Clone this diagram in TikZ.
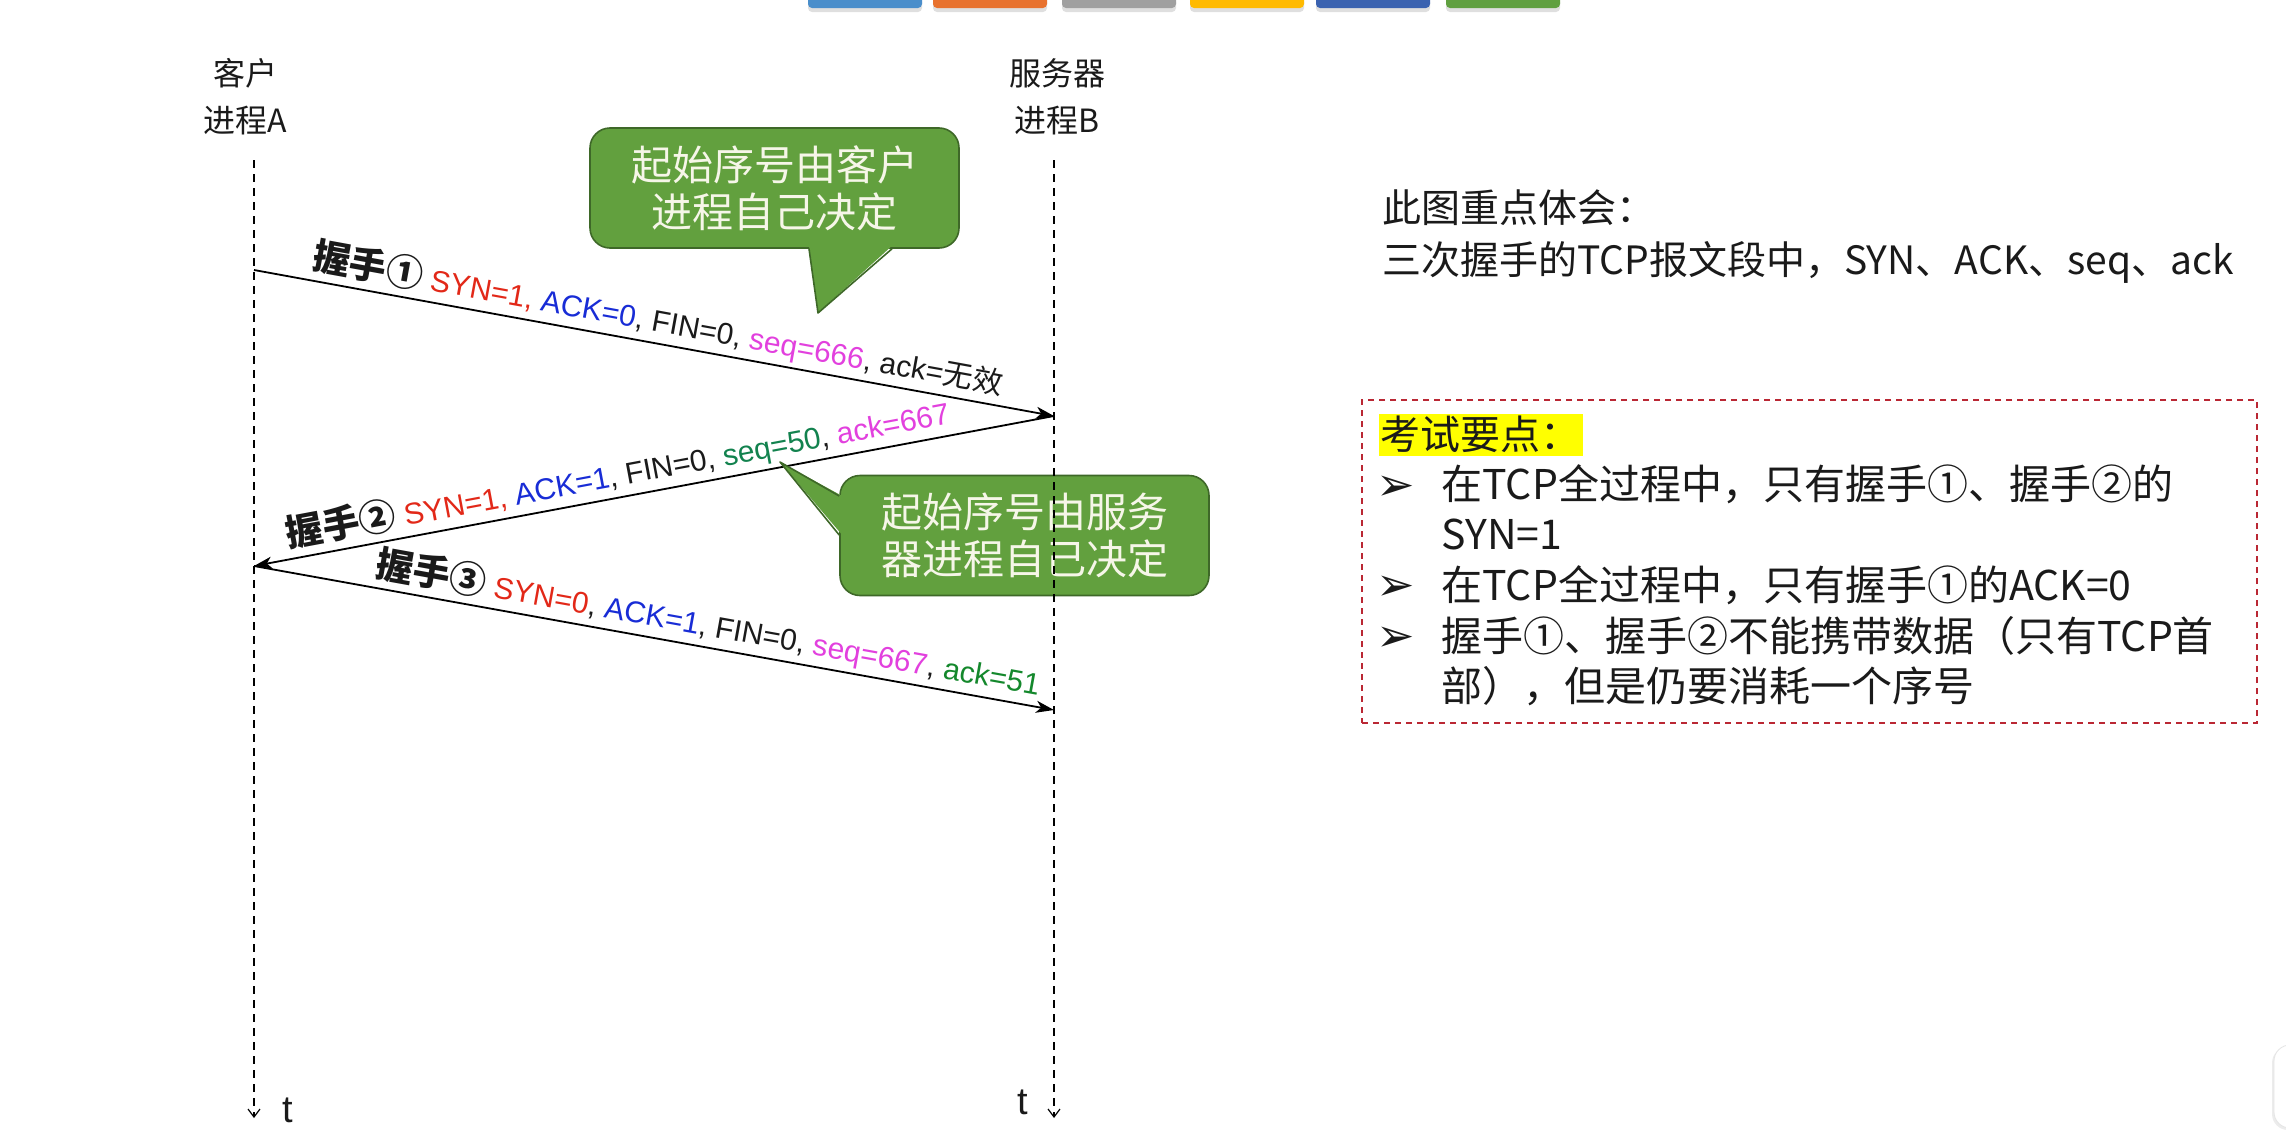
\documentclass[tikz,border=0pt]{standalone}
\usepackage{fontspec}
\setmainfont{Liberation Sans}
\newfontfamily\cjk{Noto Sans CJK SC}
\newfontfamily\dingfont{DejaVu Sans}
\usepackage{tikz}
\usetikzlibrary{arrows.meta, positioning, calc, shadows}

\definecolor{synred}{RGB}{226,40,24}
\definecolor{ackblue}{RGB}{24,44,214}
\definecolor{seqpink}{RGB}{226,64,222}
\definecolor{seqgreen}{RGB}{18,130,78}
\definecolor{ackgreen}{RGB}{20,136,44}
\definecolor{bubblefill}{RGB}{98,160,62}
\definecolor{bubbleedge}{RGB}{62,104,40}
\definecolor{bubbletext}{RGB}{246,246,232}
\definecolor{examred}{RGB}{186,40,52}
\definecolor{hlyellow}{RGB}{255,255,0}
\definecolor{inkgray}{RGB}{26,26,26}
\definecolor{tabA}{RGB}{74,142,203}
\definecolor{tabB}{RGB}{232,114,46}
\definecolor{tabC}{RGB}{160,160,160}
\definecolor{tabD}{RGB}{255,186,0}
\definecolor{tabE}{RGB}{58,98,176}
\definecolor{tabF}{RGB}{96,160,64}

\newcommand{\shake}[1]{{\cjk\bfseries\fontsize{18.5}{20}\selectfont 握手#1}}

\begin{document}
\begin{tikzpicture}[x=0.5pt, y=-0.5pt, >=Stealth, node distance=1cm, text=inkgray]
        % Styles
        \tikzstyle{actor} = [align=center, inner sep=0pt, font=\cjk\fontsize{16}{23.5}\selectfont]
        \tikzstyle{lifeline} = [dashed, dash pattern=on 4pt off 3pt, line width=0.6pt, -{Straight Barb[length=4pt, width=6pt]}]
        \tikzstyle{msg} = [line width=0.9pt, -{Stealth[length=9pt, width=6pt, inset=2.5pt]}]
        \tikzstyle{lbl} = [sloped, above, inner sep=2.2pt, font=\fontsize{15}{18}\selectfont]
        \tikzstyle{bubble} = [draw=bubbleedge, fill=bubblefill, line width=0.8pt, rounded corners=10pt, minimum width=184.5pt, minimum height=60pt, align=center, text=bubbletext, font=\cjk\fontsize{20.5}{23.5}\selectfont]
        \tikzstyle{note} = [inner sep=0pt, font=\cjk\fontsize{19.5}{24}\selectfont]
        \tikzstyle{examframe} = [draw=examred, dashed, dash pattern=on 3pt off 2.5pt, line width=0.8pt, minimum width=447.5pt, minimum height=161.5pt]
        \tikzstyle{keytitle} = [fill=hlyellow, inner sep=1pt, minimum height=21pt, font=\cjk\fontsize{20}{24}\selectfont]
        \tikzstyle{point} = [align=left, inner sep=0pt, font=\cjk\fontsize{20.5}{25}\selectfont]
        \tikzstyle{arrowmark} = [inner sep=0pt, anchor=base, font=\dingfont\fontsize{23}{24}\selectfont]

        \useasboundingbox[fill=white] (0,0) rectangle (2286,1140);

        % Tabs on top
        \foreach \x/\c in {808/tabA, 933/tabB, 1062/tabC, 1190/tabD, 1316/tabE, 1446/tabF}
            \fill[\c, rounded corners=2pt, drop shadow={shadow xshift=0pt, shadow yshift=-2pt, opacity=0.25}] (\x,-6) rectangle ++(114,14);
        \draw[black!10, fill=white, rounded corners=8pt, drop shadow={shadow xshift=-1pt, shadow yshift=-1pt, opacity=0.15}] (2274,1045) rectangle (2320,1128);

        % Nodes
        \node[actor] (client) at (245,97) {客户\\进程A};
        \node[actor] (server) at (1057,97) {服务器\\进程B};
        \coordinate (cTop) at (254,160);
        \coordinate (cBot) at (254,1118);
        \coordinate (sTop) at (1054,160);
        \coordinate (sBot) at (1054,1118);
        \node[font=\fontsize{19}{20}\selectfont] (tA) at (288,1110) {t};
        \node[font=\fontsize{19}{20}\selectfont] (tB) at (1023,1102) {t};

        \coordinate (m1) at (254,270);
        \coordinate (m2) at (1054,416);
        \coordinate (m3) at (254,566);
        \coordinate (m4) at (1054,710);

        \node[bubble] (bubbleA) at (774.5,188) {起始序号由客户\\进程自己决定};
        \node[bubble] (bubbleB) at (1024.5,535.5) {起始序号由服务\\器进程自己决定};
        \coordinate (tipA) at (818,313);
        \coordinate (tipB) at (780,462);

        % Right side notes
        \node[note, anchor=west] (focus) at (1382,208) {此图重点体会：};
        \node[note, below=27pt of focus.west, anchor=west] (fields) {三次握手的TCP报文段中，SYN、ACK、seq、ack};
        \node[examframe] (keybox) at (1809.5,561.5) {};
        \node[keytitle, below right=7pt and 8.5pt of keybox.north west] (keyhead) {考试要点：};
        % base anchor = last line
        \node[point, anchor=base west] (p1) at (1441,549) {在TCP全过程中，只有握手①、握手②的\\SYN=1};
        \node[point, anchor=base west] (p2) at (1441,600) {在TCP全过程中，只有握手①的ACK=0};
        \node[point, anchor=base west] (p3) at (1441,701) {握手①、握手②不能携带数据（只有TCP首\\部），但是仍要消耗一个序号};
        \node[arrowmark] (k1) at ($(p1.base west)+(-45,-49)$) {➢};
        \node[arrowmark] (k2) at ($(p2.base west)+(-45,0)$) {➢};
        \node[arrowmark] (k3) at ($(p3.base west)+(-45,-50)$) {➢};

        % Paths
        \draw[lifeline] (cTop) -- (cBot);
        \draw[lifeline] (sTop) -- (sBot);
        \draw[msg] (m1) -- node[lbl, pos=0.5] {\shake{①} {\color{synred}SYN=1,} {\color{ackblue}ACK=0}, FIN=0, {\color{seqpink}seq=666}, ack={\cjk 无效}} (m2);
        \draw[msg] (m2) -- node[lbl, pos=0.54] {\shake{②} {\color{synred}SYN=1,} {\color{ackblue}ACK=1}, FIN=0, {\color{seqgreen}seq=50}, {\color{seqpink}ack=667}} (m3);
        \draw[msg] (m3) -- node[lbl, pos=0.563] {\shake{③} {\color{synred}SYN=0}, {\color{ackblue}ACK=1}, FIN=0, {\color{seqpink}seq=667}, {\color{ackgreen}ack=51}} (m4);

        \fill[bubblefill] ($(bubbleA.south)+(34.5,-3)$) -- (tipA) -- ($(bubbleA.south)+(117.5,-3)$) -- cycle;
        \draw[bubbleedge, line width=0.8pt, line join=round] ($(bubbleA.south)+(34.5,0)$) -- (tipA) -- ($(bubbleA.south)+(117.5,0)$);
        \fill[bubblefill] ($(bubbleB.west)+(3,-39.5)$) -- (tipB) -- ($(bubbleB.west)+(3,-0.5)$) -- cycle;
        \draw[bubbleedge, line width=0.8pt, line join=round] ($(bubbleB.west)+(0,-39.5)$) -- (tipB) -- ($(bubbleB.west)+(0,-0.5)$);
    \end{tikzpicture}
\end{document}
